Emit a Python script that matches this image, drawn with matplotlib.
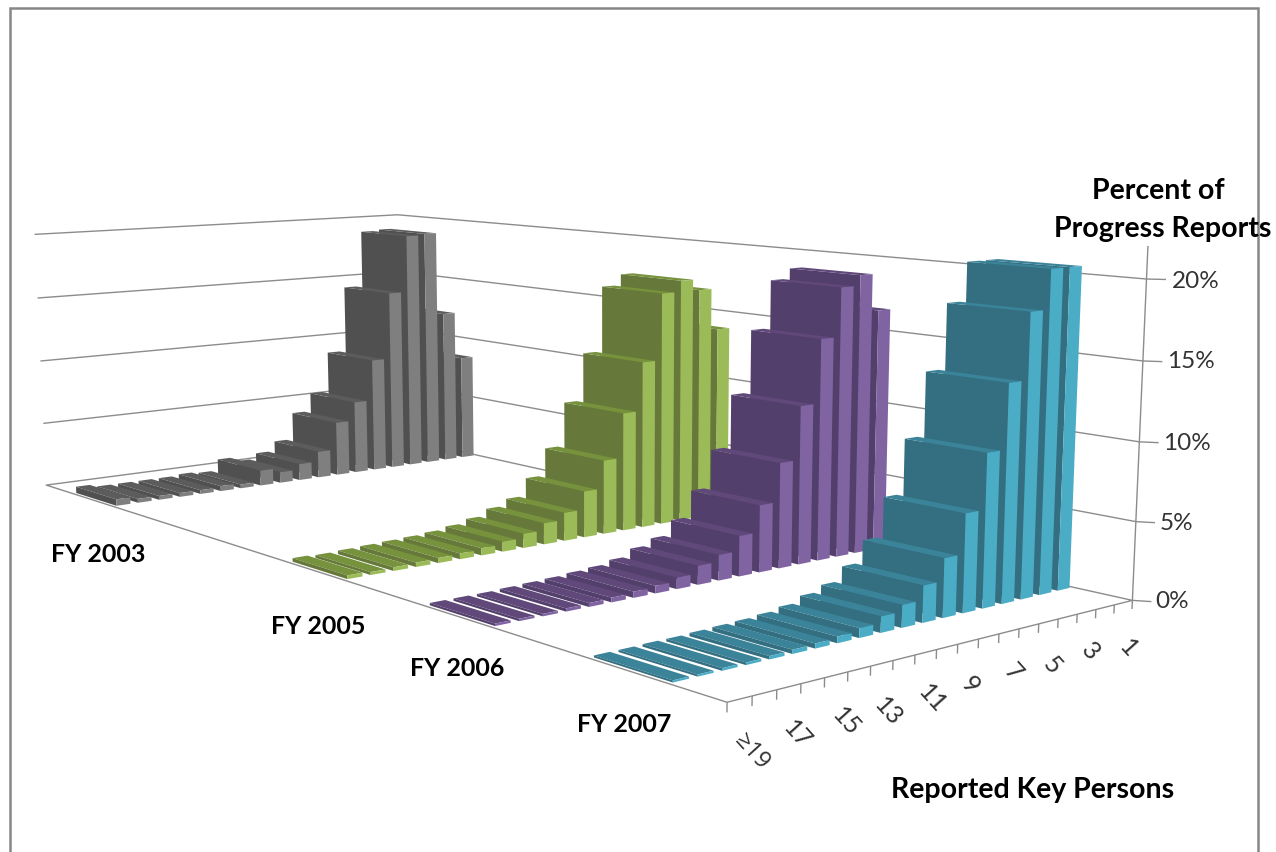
import numpy as np
import matplotlib
matplotlib.use("Agg")
import matplotlib.pyplot as plt
from matplotlib.patches import Rectangle

W, H = 1276, 852

# ---------- data (percent of progress reports, categories 1 .. >=19) ----------
key_persons = ["1", "2", "3", "4", "5", "6", "7", "8", "9", "10", "11", "12",
               "13", "14", "15", "16", "17", "18", "≥19"]
fy2003 = [8.5, 12.4, 19.2, 19.1, 14.5, 9.1, 5.8, 4.3, 2.1, 1.3, 0.85, 1.2,
          0.3, 0.4, 0.3, 0.3, 0.3, 0.3, 0.5]
fy2005 = [13.8, 16.8, 17.6, 16.8, 12.0, 8.5, 5.3, 3.3, 2.0, 1.5, 1.0, 0.7,
          0.5, 0.4, 0.35, 0.3, 0.25, 0.2, 0.25]
fy2006 = [16.5, 19.0, 18.3, 15.0, 10.7, 7.1, 4.5, 2.7, 1.7, 1.25, 0.75, 0.5,
          0.4, 0.3, 0.25, 0.2, 0.15, 0.15, 0.15]
fy2007 = [20.5, 20.5, 18.0, 13.8, 9.7, 6.2, 3.7, 2.3, 1.4, 1.0, 0.6, 0.4,
          0.3, 0.25, 0.2, 0.15, 0.15, 0.12, 0.12]
series_names = ["FY 2003", "FY 2005", "FY 2006", "FY 2007"]
series_values = [fy2003, fy2005, fy2006, fy2007]
series_rows = [0, 2, 3, 4]          # depth slot, back to front (slot 1 is empty)
pct_ticks = [0, 5, 10, 15, 20]

# face colours: dark (-x), light (-y), top
series_colors = [("#505050", "#7F7F7F", "#5C5C5C"),
                 ("#66793A", "#9BBB59", "#76923C"),
                 ("#533F6B", "#8064A2", "#60497A"),
                 ("#336E81", "#4BACC6", "#3A8399")]

# ---------- calibration of the chart box: (x, y, z) -> picture pixels ----------
calib = [((0, 0, 0), (727, 702)), ((19, 0, 0), (1133, 600)),
         ((19, 0, 5), (1136, 522)), ((19, 0, 10), (1139, 442)),
         ((19, 0, 15), (1142, 362)), ((19, 0, 20), (1147, 278)),
         ((0, 1, 0), (47, 485)), ((0, 1, 5), (43, 424)),
         ((0, 1, 10), (40, 361)), ((0, 1, 15), (37, 298)),
         ((0, 1, 20), (35, 234)), ((19, 1, 20), (398, 215)),
         ((19, 1, 0), (401, 438))]


def fit_projection(pairs):
    D = np.diag([1 / 19, 1, 1 / 20, 1])
    S = np.diag([1000.0, 1000.0, 1.0])
    rows = []
    for (wx, wy, wz), (px, py) in pairs:
        X = D @ np.array([wx, wy, wz, 1.0])
        u, v = px / 1000, py / 1000
        rows.append(np.r_[X, 0, 0, 0, 0, -u * X])
        rows.append(np.r_[0, 0, 0, 0, X, -v * X])
    P = np.linalg.svd(np.array(rows))[2][-1].reshape(3, 4)
    P = S @ P @ D
    return P / (P[2] @ np.array([9.5, 0.5, 10, 1.0]))


fig = plt.figure(figsize=(W / 100, H / 100), dpi=100, facecolor="white")


def px(x, y):
    return x / W, 1 - y / H


# outer frame
fig.add_artist(Rectangle(px(9.5, 880), 1248.5 / W, 872 / H, transform=fig.transFigure,
                         fill=False, edgecolor="#868686", linewidth=1.8))

ax = fig.add_axes([0, -0.25, 1, 1.5], projection="3d")
ax.set_axis_off()
ax.patch.set_visible(False)
ax.computed_zorder = False

GRID = "#8C8C8C"
def line(xs, ys, zs, lw=1.0, c=GRID):
    ax.plot(xs, ys, zs, color=c, linewidth=lw, zorder=1, solid_capstyle="butt")


# floor and walls
line([0, 19, 19, 0, 0], [0, 0, 1, 1, 0], [0, 0, 0, 0, 0])
for z in pct_ticks[1:]:
    line([0, 19, 19], [1, 1, 0], [z, z, z])
line([19, 19], [0, 0], [0, 22])
for z in pct_ticks:
    line([19, 19.35], [0, -0.012], [z, z])
for i in range(20):
    line([i, i], [0, 0], [0, -0.55])

# bars: back row first, and in each row from the far end to the near end
BAR_W, BAR_D, N_SLOTS = 0.65, 0.42, 5
order = 2
clear = (0, 0, 0, 0)
for vals, slot, (dark, light, top) in zip(series_values, series_rows, series_colors):
    yc = 1 - (slot + 0.5) / N_SLOTS
    for i, v in enumerate(vals):
        xc = 19 - i - 0.5
        ax.bar3d(xc - BAR_W / 2, yc - BAR_D / N_SLOTS / 2, 0,
                 BAR_W, BAR_D / N_SLOTS, v,
                 color=[clear, top, light, clear, dark, clear],
                 shade=False, edgecolor="none", zorder=order)
        order += 1

# use the calibrated projection in place of mplot3d's camera
ax.apply_aspect()
P = fit_projection(calib)
to_view = ax.transData.inverted().get_matrix() @ np.array(
    [[1.0, 0, 0], [0, -1.0, H], [0, 0, 1.0]])
Q = to_view @ P
M = np.vstack([Q[0], Q[1], [0, 0, 0, -1.0], Q[2]])
ax.get_proj = lambda: M

# texts
BOLD = dict(family="Lato", fontweight="bold", color="black", ha="center", va="center")
for name, (x, y) in zip(series_names, [(98, 555), (318, 626), (457, 669), (624, 724)]):
    fig.text(*px(x, y), name, fontsize=18, **BOLD)
fig.text(*px(1158, 191), "Percent of", fontsize=20.5, **BOLD)
fig.text(*px(1163, 229), "Progress Reports", fontsize=20.5, **BOLD)
fig.text(*px(1033, 790), "Reported Key Persons", fontsize=20.5, **BOLD)

REG = dict(color="#333333", ha="center", va="center")
for t, (x, y) in zip(pct_ticks, [(1172, 602), (1176, 523), (1187, 444), (1191, 362), (1196, 281)]):
    fig.text(*px(x, y), f"{t}%", fontsize=17.5, family="Lato", **REG)
cat_pos = {"≥19": (752, 752), "17": (797, 735), "15": (846, 722), "13": (888, 712),
           "11": (932, 699), "9": (970, 685), "7": (1013, 672), "5": (1052, 665),
           "3": (1090, 651), "1": (1128, 648)}
for lab in key_persons:
    if lab in cat_pos:
        fam = "Open Sans" if lab.startswith("≥") else "Lato"
        fig.text(*px(*cat_pos[lab]), lab, fontsize=17 if fam == "Open Sans" else 18,
                 family=fam, rotation=-48, rotation_mode="anchor", **REG)

fig.savefig("out.png", dpi=100, facecolor="white")
